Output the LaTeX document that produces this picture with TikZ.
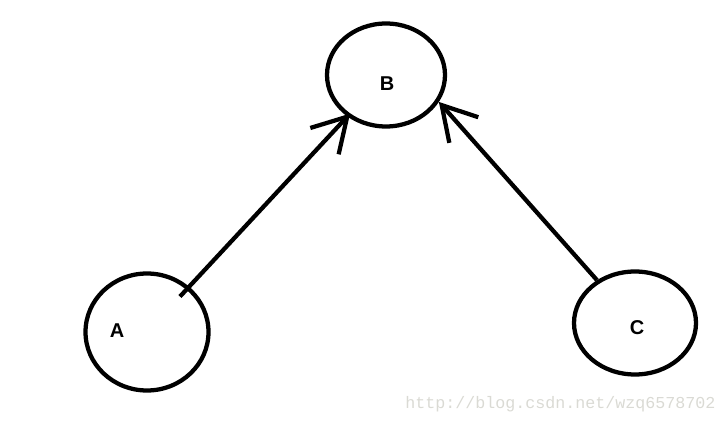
\documentclass[tikz,border=0pt]{standalone}
\usepackage{fontspec}
\setmainfont{Liberation Sans}
\newfontfamily\markfont{Liberation Mono}
\usepackage{tikz}
\usetikzlibrary{arrows.meta,shapes.geometric,positioning,calc}
\definecolor{wmgray}{RGB}{218,218,212}
\tikzstyle{vertex} = [ellipse, draw=black, line width=3.2pt, inner sep=0pt]
\tikzstyle{letter} = [font=\bfseries\fontsize{15}{18}\selectfont]
\tikzstyle{edge} = [line width=3.2pt, -{Straight Barb[length=25pt,width=29pt]}]

\begin{document}
\begin{tikzpicture}[x=0.75pt,y=-0.75pt]
\useasboundingbox (0,0) rectangle (727,423);
% the three nodes
\node[vertex, minimum width=88.5pt, minimum height=77.25pt] (B) at (386,75) {};
\node[vertex, minimum width=92.25pt, minimum height=87.75pt] (A) at (147,332) {};
\node[vertex, minimum width=91.5pt, minimum height=77.25pt] (C) at (635,323) {};

% letters
\node[letter] (labB) at (387,84) {B};
\node[letter] (labA) at (117,331) {A};
\node[letter] (labC) at (637,328) {C};

% edges into B
\draw[edge, shorten >=-3pt] ($(A)!0.138!(B)$) -- (B);
\draw[edge] (C) -- (B.-27);

% watermark
\node[anchor=base west, inner sep=0pt, text=wmgray, font=\markfont\fontsize{12.5}{14}\selectfont] (mark) at (405,408) {http://blog.csdn.net/wzq6578702};
\end{tikzpicture}
\end{document}
